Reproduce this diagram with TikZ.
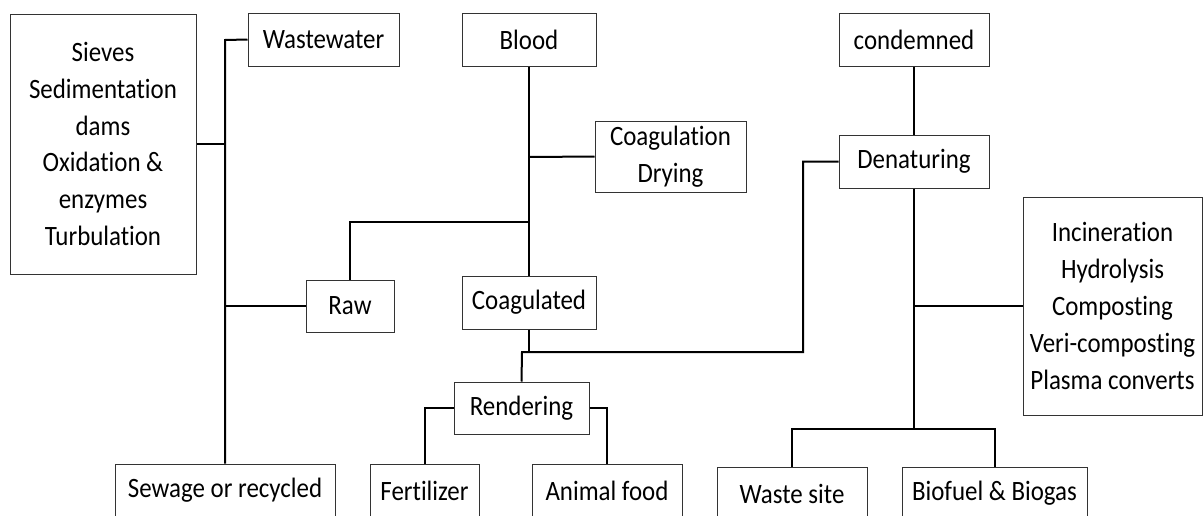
\documentclass[tikz,border=0pt]{standalone}
\usepackage{fontspec}
\setmainfont[FakeStretch=0.89, Ligatures=NoCommon]{Carlito}
\begin{document}
\begin{tikzpicture}[x=1pt,y=-1pt,
  box/.style={draw=black!80, line width=1pt, inner sep=0pt, align=center,
    font=\fontsize{28}{36.8}\selectfont, minimum width=#1},
  box/.default=100,
  conn/.style={draw=black, line width=2pt}]
\fill[white] (0,0) rectangle (1203,515);
\useasboundingbox (0,0) rectangle (1203,515);

% boxes
\node[box=186, minimum height=260] (sieves) at (103,144)
  {Sieves\\Sedimentation\\dams\\Oxidation \&\\enzymes\\Turbulation};
\node[box=151, minimum height=53] (waste) at (323.5,39.5) {Wastewater};
\node[box=134, minimum height=53] (blood) at (529,39.5) {Blood};
\node[box=150, minimum height=53] (cond) at (914,39.5) {condemned};
\node[box=151, minimum height=71] (coagdry) at (670.5,156.5) {Coagulation\\Drying};
\node[box=150, minimum height=53] (denat) at (914,161.5) {Denaturing};
\node[box=179, minimum height=218] (incin) at (1112.5,306)
  {Incineration\\Hydrolysis\\Composting\\Veri-composting\\Plasma converts};
\node[box=88, minimum height=52] (raw) at (350,306) {Raw};
\node[box=134, minimum height=53] (coag) at (529,302.5) {Coagulated};
\node[box=135, minimum height=52] (rend) at (521.5,408) {Rendering};
\node[box=220, minimum height=53] (sewage) at (225,490.5) {Sewage or recycled};
\node[box=109, minimum height=53] (fert) at (424.5,490.5) {Fertilizer};
\node[box=150, minimum height=53] (afood) at (607,490.5) {Animal food};
\node[box=150, minimum height=53] (wsite) at (792,493.5) {Waste site};
\node[box=185, minimum height=53] (bio) at (994.5,493.5) {Biofuel \& Biogas};

% junction coordinates
\coordinate (wb) at (225,144);
\coordinate (wt) at (225,40);
\coordinate (wr) at (225,306);
\coordinate (bj) at (529,222);
\coordinate (bc) at (529,157);
\coordinate (cj) at (529,352);
\coordinate (rj) at (522,352);
\coordinate (dj) at (803,352);
\coordinate (dbus) at (914,306);
\coordinate (dlow) at (914,429);

% wastewater bus
\draw[conn] (sieves.east) -- (wb);
\draw[conn] (waste.west) -- (wt) -- (sewage.north);
\draw[conn] (wr) -- (raw.west);

% blood
\draw[conn] (blood.south) -- (coag.north);
\draw[conn] (bc) -- (coagdry.west);
\draw[conn] (raw.north) |- (bj);

% coagulated to rendering and denaturing
\draw[conn] (coag.south) -- (cj);
\draw[conn] (rend.north) -- (rj) -- (dj) |- (denat.west);

% rendering children
\draw[conn] (rend.west) -| (fert.north);
\draw[conn] (rend.east) -| (afood.north);

% condemned
\draw[conn] (cond.south) -- (denat.north);
\draw[conn] (denat.south) -- (dlow);
\draw[conn] (dbus) -- (incin.west);
\draw[conn] (wsite.north) |- (dlow) -| (bio.north);
\end{tikzpicture}
\end{document}
